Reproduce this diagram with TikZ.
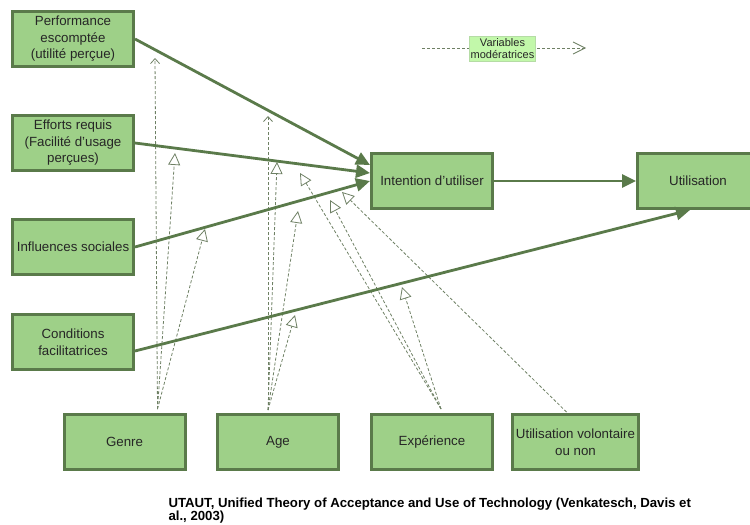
\documentclass[tikz,border=0pt]{standalone}
\usepackage{fontspec}
\setmainfont{Liberation Sans}
\usetikzlibrary{arrows.meta}
\definecolor{boxfill}{HTML}{9ED088}
\definecolor{boxline}{HTML}{5A7A4A}
\definecolor{modline}{HTML}{6E8064}
\definecolor{legfill}{HTML}{C2F8AA}
\definecolor{legline}{HTML}{B5DCA5}
\definecolor{txt}{HTML}{262626}
\begin{document}
\begin{tikzpicture}[x=1pt,y=-1pt]
\tikzstyle{every node}=[draw=boxline,line width=3pt,fill=boxfill,minimum width=121pt,minimum height=55pt,align=center,text=txt,font=\fontsize{13.3}{16.5}\selectfont]
\tikzstyle{effect}=[draw=boxline,line width=2.8pt,-{Triangle[length=14pt,width=13pt]}]
\tikzstyle{moder}=[draw=modline,line width=0.8pt,dash pattern=on 3pt off 2pt,-{Triangle[open,length=12pt,width=12pt]}]
\tikzstyle{moderv}=[draw=modline,line width=0.8pt,dash pattern=on 3pt off 2pt,-{Straight Barb[length=5pt,width=9pt]}]
\useasboundingbox (0,0) rectangle (750,525);
% facteurs
\node(f0) at (73,39) {Performance\\escomptée\\(utilité perçue)};
\node(f1) at (73,143) {Efforts requis\\(Facilité d'usage\\perçues)};
\node(f2) at (73,247) {Influences sociales};
\node(f3) at (73,342) {Conditions\\facilitatrices};
\node(int) at (432,181) {Intention d'utiliser};
\node(uti) at (698,181) {Utilisation};
% variables moderatrices
\node(m0) at (124.5,442) {Genre};
\node(m1) at (278,442) {Age};
\node(m2) at (432,442) {Expérience};
\node(m3) at (575.5,442) {Utilisation volontaire\\ou non};
% pointes sur les fleches
\coordinate (t00) at (155,58);
\coordinate (t01) at (175,153);
\coordinate (t02) at (205,229);
\coordinate (t10) at (268,116);
\coordinate (t11) at (277,162);
\coordinate (t12) at (298,211);
\coordinate (t13) at (295,315);
\coordinate (t20) at (300,173);
\coordinate (t21) at (330,200);
\coordinate (t22) at (402,287);
\coordinate (t30) at (342,192);
\draw[moderv] ([xshift=33pt,yshift=4pt]m0.north) -- (t00);
\draw[moder] ([xshift=33pt,yshift=4pt]m0.north) -- (t01);
\draw[moder] ([xshift=33pt,yshift=4pt]m0.north) -- (t02);
\draw[moderv] ([xshift=-10pt,yshift=3pt]m1.north) -- (t10);
\draw[moder] ([xshift=-10pt,yshift=3pt]m1.north) -- (t11);
\draw[moder] ([xshift=-10pt,yshift=3pt]m1.north) -- (t12);
\draw[moder] ([xshift=-10pt,yshift=3pt]m1.north) -- (t13);
\draw[moder] ([xshift=9pt,yshift=4pt]m2.north) -- (t20);
\draw[moder] ([xshift=9pt,yshift=4pt]m2.north) -- (t21);
\draw[moder] ([xshift=9pt,yshift=4pt]m2.north) -- (t22);
\draw[moder] ([xshift=-9pt,yshift=1pt]m3.north) -- (t30);
% effets
\draw[effect] (f0.east) -- ([yshift=16pt]int.west);
\draw[effect] (f1.east) -- ([yshift=8pt]int.west);
\draw[effect] (f2.east) -- ([yshift=0pt]int.west);
\draw[effect] ([yshift=-9pt]f3.east) -- ([xshift=-8pt]uti.south);
\draw[effect] (int.east) -- (uti.west);
% legende
\coordinate (l0) at (422,48);
\coordinate (l1) at (586,48);
\draw[moderv,-{Straight Barb[length=12pt,width=12pt]}] (l0) -- (l1);
\node[draw=legline,line width=0.6pt,fill=legfill,minimum width=65pt,minimum height=25pt,inner sep=1pt,font=\fontsize{11}{12.5}\selectfont](leg) at (502.5,48.5) {Variables\\modératrices};
\node[draw=none,fill=none,minimum width=0pt,minimum height=0pt,inner sep=0pt,anchor=north west,align=left,text=black,font=\bfseries\fontsize{13.2}{13.5}\selectfont](cap) at (167,496) {UTAUT, Unified Theory of Acceptance and Use of Technology (Venkatesch, Davis et\\al., 2003)};
\end{tikzpicture}
\end{document}
